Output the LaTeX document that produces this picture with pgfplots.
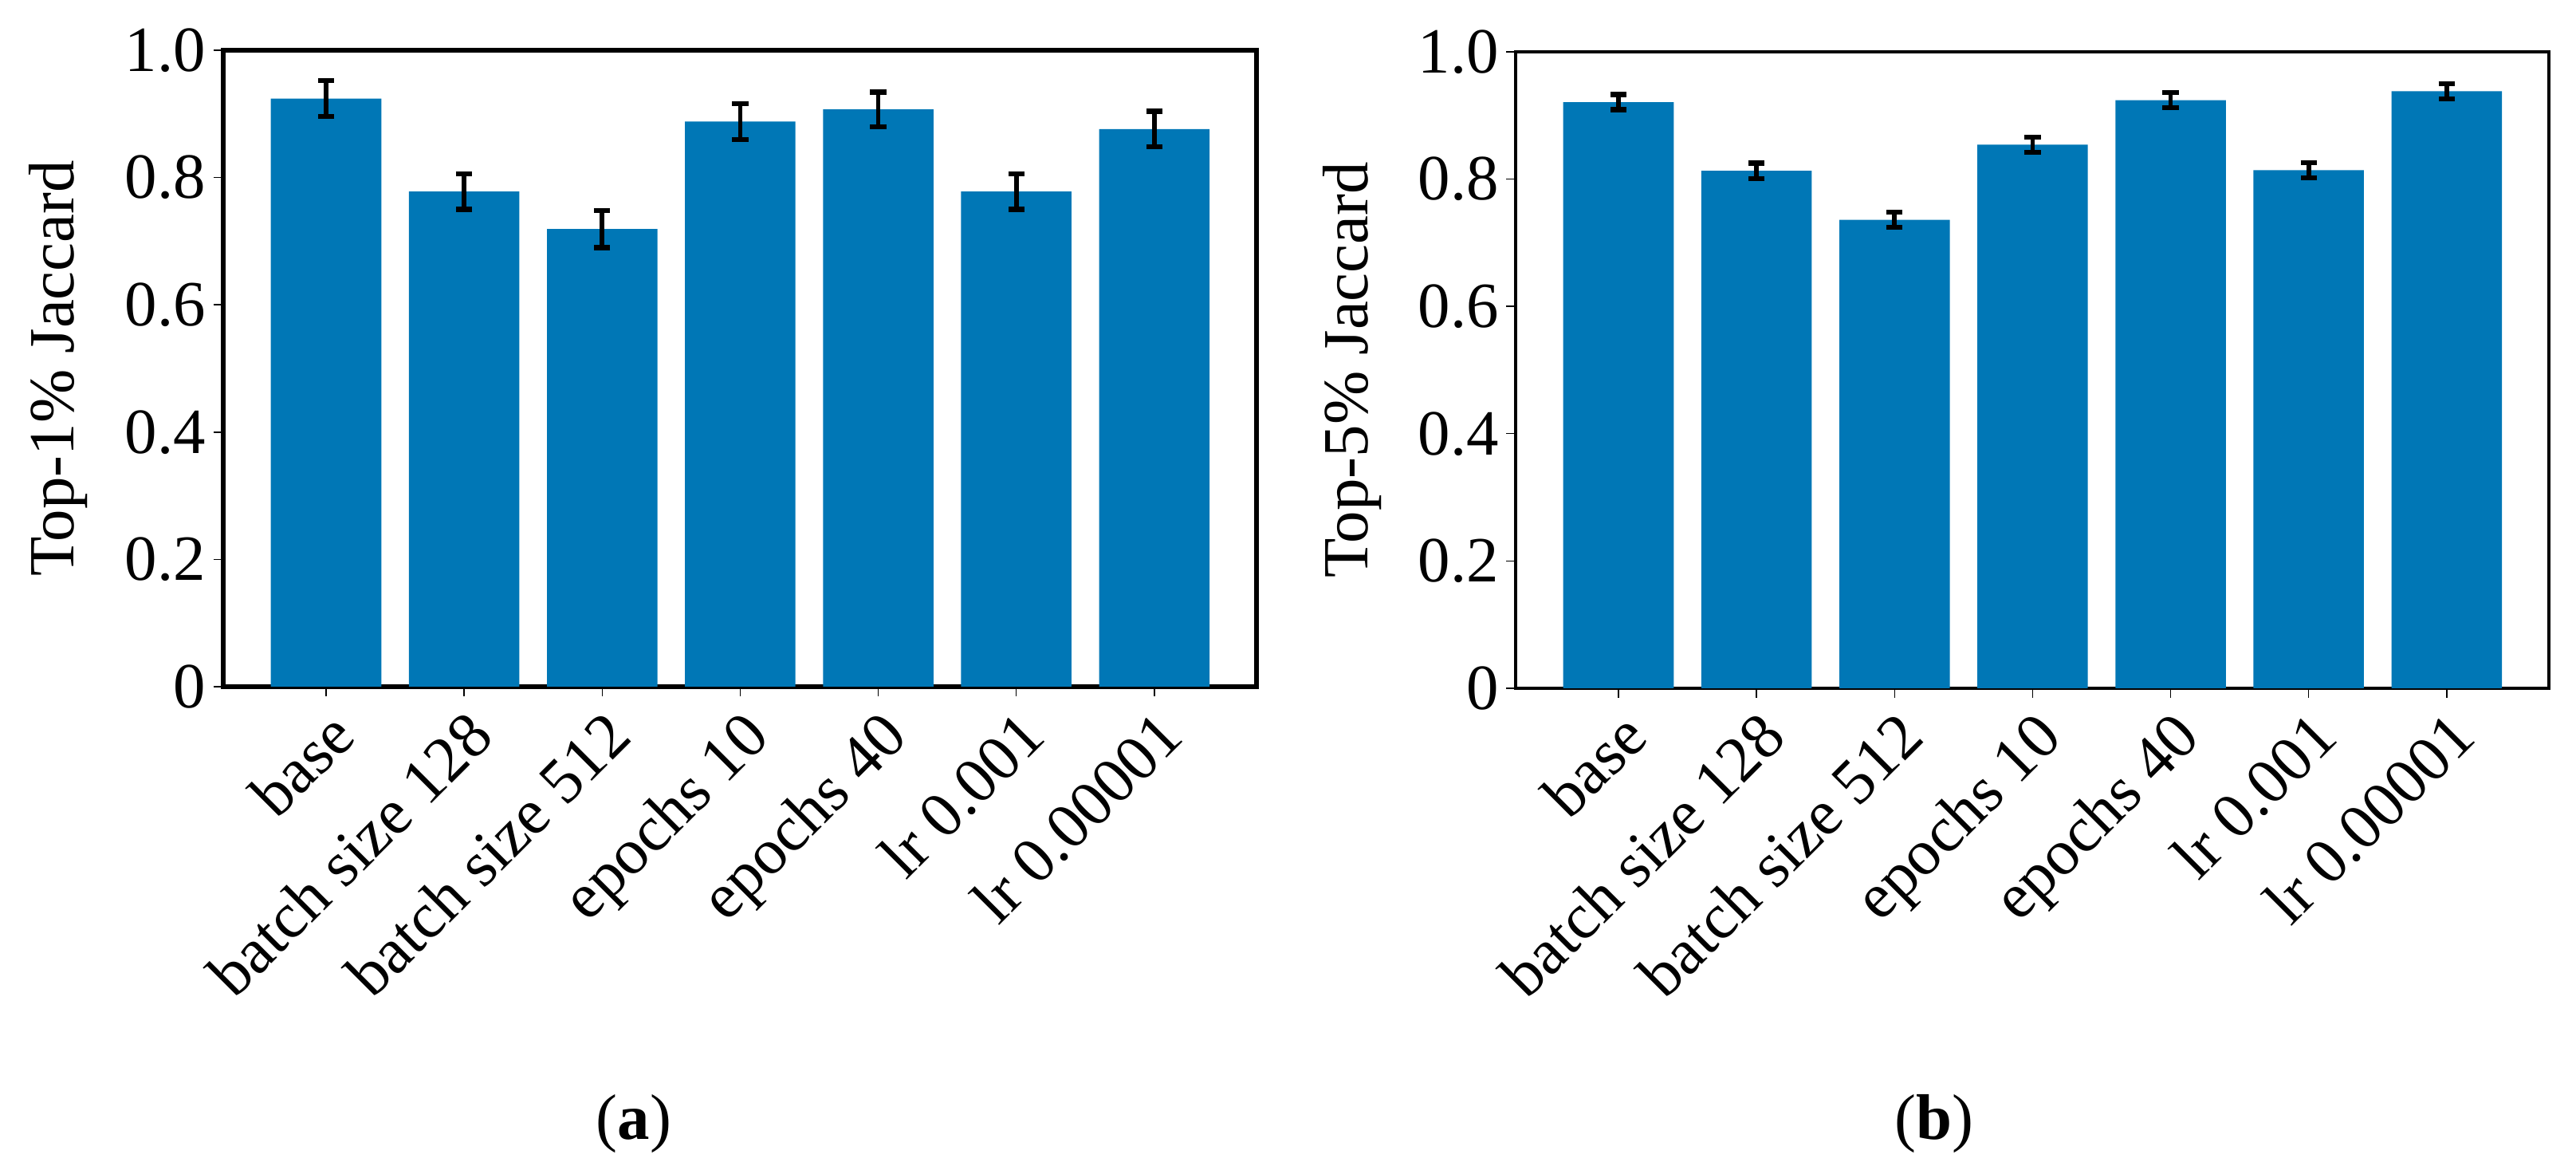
\documentclass[border=0pt]{standalone}
\usepackage{fontspec}
\setmainfont{Liberation Serif}
\usepackage{pgfplots}
\pgfplotsset{compat=1.18}
\definecolor{barblue}{HTML}{0077B6}

\pgfplotsset{
  jacc/.style={
    ybar, scale only axis,
    width=64.8mm, height=39.9mm,
    bar width=0.8,
    xmin=-0.745, xmax=6.74, ymin=0, ymax=1,
    xtick={0,...,6},
    xticklabels={base, batch size 128, batch size 512, epochs 10, epochs 40, lr 0.001, lr 0.00001},
    ytick={0,0.2,0.4,0.6,0.8,1.0},
    yticklabels={0,0.2,0.4,0.6,0.8,1.0},
    xtick pos=bottom, ytick pos=left,
    tick align=outside, major tick length=0.6mm,
    tick style={black},
    font=\fontsize{11.5}{13}\selectfont,
    x tick label style={rotate=45, anchor=north east, inner sep=1pt},
    y tick label style={inner sep=1pt},
    ylabel style={at={(axis description cs:-0.16,0.5)}, anchor=center, rotate=0},
    axis line style={black},
  },
  jbar/.style={fill=barblue, draw=none,
    error bars/y dir=both, error bars/y explicit,
    error bars/error bar style={black, line width=0.8pt},
    error bars/error mark options={rotate=90, mark size=1.45pt, line width=0.9pt, black}},
}

\begin{document}
\begin{tikzpicture}
\path[use as bounding box] (0,0) rectangle (161.55mm,73.6mm);

% (a) Top-1%
\begin{axis}[jacc, at={(14.0mm,30.55mm)}, anchor=south west,
  ylabel={Top-1\% Jaccard}, line width=0.85pt]
\addplot[jbar] coordinates {
  (0,0.924) +- (0,0.028)
  (1,0.778) +- (0,0.028)
  (2,0.719) +- (0,0.029)
  (3,0.888) +- (0,0.028)
  (4,0.907) +- (0,0.027)
  (5,0.778) +- (0,0.028)
  (6,0.876) +- (0,0.028)
};
\end{axis}

% (b) Top-5%
\begin{axis}[jacc, at={(95.05mm,30.45mm)}, anchor=south west,
  ylabel={Top-5\% Jaccard}, line width=0.65pt,
  ylabel style={at={(axis description cs:-0.158,0.5)}}]
\addplot[jbar] coordinates {
  (0,0.921) +- (0,0.012)
  (1,0.813) +- (0,0.012)
  (2,0.736) +- (0,0.012)
  (3,0.854) +- (0,0.012)
  (4,0.924) +- (0,0.012)
  (5,0.814) +- (0,0.012)
  (6,0.938) +- (0,0.012)
};
\end{axis}

\node[font=\fontsize{11.5}{13}\selectfont] at (39.75mm,3.15mm) {(\textbf{a})};
\node[font=\fontsize{11.5}{13}\selectfont] at (121.3mm,3.15mm) {(\textbf{b})};
\end{tikzpicture}
\end{document}
